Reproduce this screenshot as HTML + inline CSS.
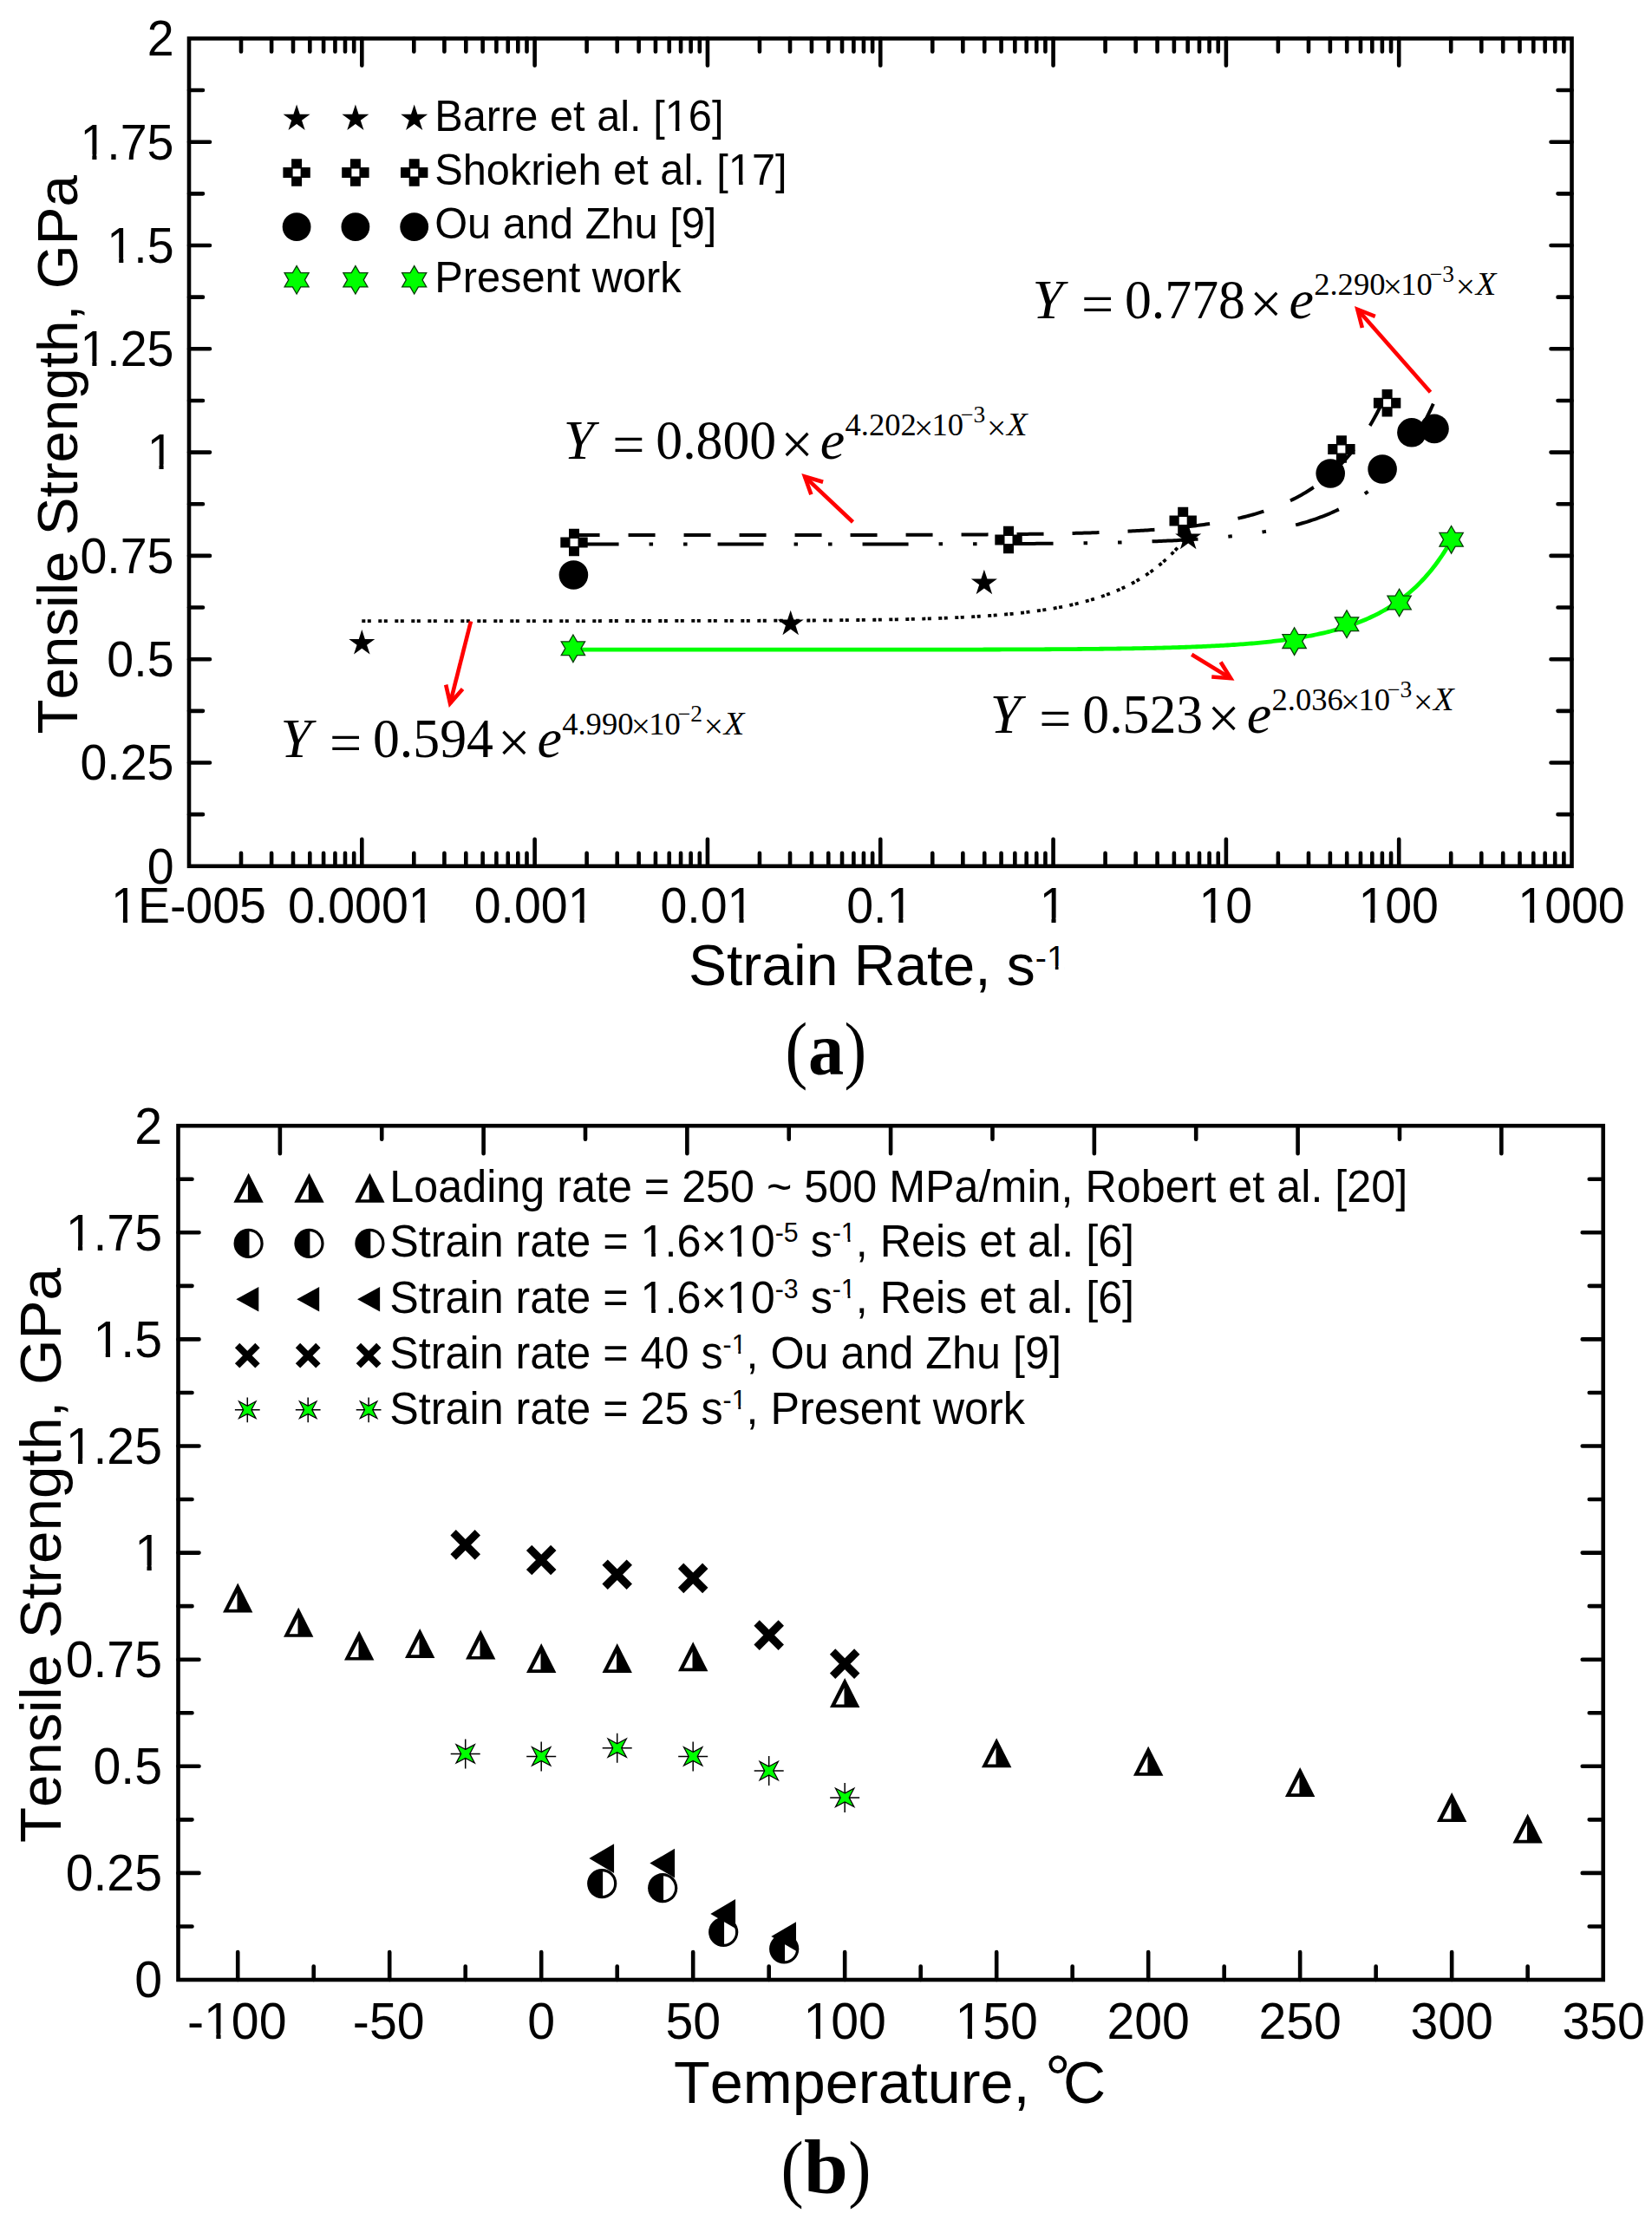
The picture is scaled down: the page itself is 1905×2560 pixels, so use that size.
<!DOCTYPE html>
<html lang="en">
<head>
<meta charset="utf-8">
<title>Tensile strength versus strain rate and temperature</title>
<style>
html,body{margin:0;padding:0;background:#fff;}
body{width:1905px;height:2560px;overflow:hidden;}
svg{display:block;}
text{fill:#000;font-kerning:none;}
</style>
</head>
<body>
<svg width="1905" height="2560" viewBox="0 0 1905 2560">
<rect width="1905" height="2560" fill="#fff"/>
<g id="panel-a">
<path d="M417.31 716.06 L419.69 716.06 L422.07 716.06 L424.46 716.06 L426.84 716.06 L429.22 716.06 L431.6 716.06 L433.98 716.06 L436.36 716.06 L438.74 716.06 L441.12 716.06 L443.5 716.06 L445.88 716.06 L448.26 716.06 L450.64 716.06 L453.03 716.06 L455.41 716.06 L457.79 716.06 L460.17 716.06 L462.55 716.06 L464.93 716.06 L467.31 716.06 L469.69 716.06 L472.07 716.06 L474.45 716.06 L476.83 716.06 L479.21 716.06 L481.6 716.06 L483.98 716.06 L486.36 716.06 L488.74 716.06 L491.12 716.06 L493.5 716.06 L495.88 716.06 L498.26 716.06 L500.64 716.06 L503.02 716.06 L505.4 716.06 L507.79 716.05 L510.17 716.05 L512.55 716.05 L514.93 716.05 L517.31 716.05 L519.69 716.05 L522.07 716.05 L524.45 716.05 L526.83 716.05 L529.21 716.05 L531.59 716.05 L533.97 716.05 L536.36 716.05 L538.74 716.05 L541.12 716.05 L543.5 716.05 L545.88 716.05 L548.26 716.05 L550.64 716.05 L553.02 716.05 L555.4 716.05 L557.78 716.05 L560.16 716.05 L562.55 716.05 L564.93 716.05 L567.31 716.05 L569.69 716.05 L572.07 716.05 L574.45 716.05 L576.83 716.05 L579.21 716.05 L581.59 716.05 L583.97 716.05 L586.35 716.05 L588.73 716.05 L591.12 716.05 L593.5 716.05 L595.88 716.05 L598.26 716.05 L600.64 716.05 L603.02 716.05 L605.4 716.05 L607.78 716.05 L610.16 716.05 L612.54 716.05 L614.92 716.05 L617.31 716.04 L619.69 716.04 L622.07 716.04 L624.45 716.04 L626.83 716.04 L629.21 716.04 L631.59 716.04 L633.97 716.04 L636.35 716.04 L638.73 716.04 L641.11 716.04 L643.49 716.04 L645.88 716.04 L648.26 716.04 L650.64 716.04 L653.02 716.04 L655.4 716.04 L657.78 716.04 L660.16 716.04 L662.54 716.04 L664.92 716.03 L667.3 716.03 L669.68 716.03 L672.06 716.03 L674.45 716.03 L676.83 716.03 L679.21 716.03 L681.59 716.03 L683.97 716.03 L686.35 716.03 L688.73 716.03 L691.11 716.03 L693.49 716.02 L695.87 716.02 L698.25 716.02 L700.64 716.02 L703.02 716.02 L705.4 716.02 L707.78 716.02 L710.16 716.02 L712.54 716.02 L714.92 716.02 L717.3 716.01 L719.68 716.01 L722.06 716.01 L724.44 716.01 L726.82 716.01 L729.21 716.01 L731.59 716.01 L733.97 716 L736.35 716 L738.73 716 L741.11 716 L743.49 716 L745.87 716 L748.25 715.99 L750.63 715.99 L753.01 715.99 L755.4 715.99 L757.78 715.99 L760.16 715.98 L762.54 715.98 L764.92 715.98 L767.3 715.98 L769.68 715.98 L772.06 715.97 L774.44 715.97 L776.82 715.97 L779.2 715.97 L781.58 715.96 L783.97 715.96 L786.35 715.96 L788.73 715.96 L791.11 715.95 L793.49 715.95 L795.87 715.95 L798.25 715.94 L800.63 715.94 L803.01 715.94 L805.39 715.93 L807.77 715.93 L810.15 715.93 L812.54 715.92 L814.92 715.92 L817.3 715.92 L819.68 715.91 L822.06 715.91 L824.44 715.9 L826.82 715.9 L829.2 715.89 L831.58 715.89 L833.96 715.89 L836.34 715.88 L838.73 715.88 L841.11 715.87 L843.49 715.86 L845.87 715.86 L848.25 715.85 L850.63 715.85 L853.01 715.84 L855.39 715.84 L857.77 715.83 L860.15 715.82 L862.53 715.82 L864.91 715.81 L867.3 715.8 L869.68 715.8 L872.06 715.79 L874.44 715.78 L876.82 715.77 L879.2 715.77 L881.58 715.76 L883.96 715.75 L886.34 715.74 L888.72 715.73 L891.1 715.72 L893.49 715.71 L895.87 715.7 L898.25 715.69 L900.63 715.68 L903.01 715.67 L905.39 715.66 L907.77 715.65 L910.15 715.64 L912.53 715.63 L914.91 715.62 L917.29 715.6 L919.67 715.59 L922.06 715.58 L924.44 715.56 L926.82 715.55 L929.2 715.54 L931.58 715.52 L933.96 715.51 L936.34 715.49 L938.72 715.48 L941.1 715.46 L943.48 715.44 L945.86 715.43 L948.24 715.41 L950.63 715.39 L953.01 715.37 L955.39 715.35 L957.77 715.33 L960.15 715.31 L962.53 715.29 L964.91 715.27 L967.29 715.25 L969.67 715.22 L972.05 715.2 L974.43 715.18 L976.82 715.15 L979.2 715.13 L981.58 715.1 L983.96 715.07 L986.34 715.05 L988.72 715.02 L991.1 714.99 L993.48 714.96 L995.86 714.93 L998.24 714.9 L1000.62 714.86 L1003 714.83 L1005.39 714.8 L1007.77 714.76 L1010.15 714.73 L1012.53 714.69 L1014.91 714.65 L1017.29 714.61 L1019.67 714.57 L1022.05 714.53 L1024.43 714.49 L1026.81 714.44 L1029.19 714.4 L1031.58 714.35 L1033.96 714.3 L1036.34 714.25 L1038.72 714.2 L1041.1 714.15 L1043.48 714.1 L1045.86 714.04 L1048.24 713.99 L1050.62 713.93 L1053 713.87 L1055.38 713.81 L1057.76 713.74 L1060.15 713.68 L1062.53 713.61 L1064.91 713.54 L1067.29 713.47 L1069.67 713.4 L1072.05 713.33 L1074.43 713.25 L1076.81 713.17 L1079.19 713.09 L1081.57 713.01 L1083.95 712.92 L1086.34 712.83 L1088.72 712.74 L1091.1 712.65 L1093.48 712.55 L1095.86 712.46 L1098.24 712.35 L1100.62 712.25 L1103 712.14 L1105.38 712.03 L1107.76 711.92 L1110.14 711.8 L1112.52 711.69 L1114.91 711.56 L1117.29 711.44 L1119.67 711.31 L1122.05 711.17 L1124.43 711.03 L1126.81 710.89 L1129.19 710.75 L1131.57 710.6 L1133.95 710.44 L1136.33 710.29 L1138.71 710.12 L1141.09 709.96 L1143.48 709.78 L1145.86 709.61 L1148.24 709.43 L1150.62 709.24 L1153 709.05 L1155.38 708.85 L1157.76 708.64 L1160.14 708.43 L1162.52 708.22 L1164.9 708 L1167.28 707.77 L1169.67 707.53 L1172.05 707.29 L1174.43 707.04 L1176.81 706.79 L1179.19 706.53 L1181.57 706.26 L1183.95 705.98 L1186.33 705.69 L1188.71 705.4 L1191.09 705.09 L1193.47 704.78 L1195.85 704.46 L1198.24 704.13 L1200.62 703.79 L1203 703.44 L1205.38 703.08 L1207.76 702.71 L1210.14 702.33 L1212.52 701.94 L1214.9 701.53 L1217.28 701.12 L1219.66 700.69 L1222.04 700.25 L1224.43 699.8 L1226.81 699.33 L1229.19 698.85 L1231.57 698.36 L1233.95 697.85 L1236.33 697.32 L1238.71 696.78 L1241.09 696.23 L1243.47 695.65 L1245.85 695.06 L1248.23 694.46 L1250.61 693.83 L1253 693.19 L1255.38 692.52 L1257.76 691.84 L1260.14 691.13 L1262.52 690.41 L1264.9 689.66 L1267.28 688.89 L1269.66 688.1 L1272.04 687.28 L1274.42 686.44 L1276.8 685.57 L1279.18 684.67 L1281.57 683.75 L1283.95 682.79 L1286.33 681.81 L1288.71 680.8 L1291.09 679.76 L1293.47 678.68 L1295.85 677.57 L1298.23 676.42 L1300.61 675.24 L1302.99 674.02 L1305.37 672.77 L1307.76 671.47 L1310.14 670.13 L1312.52 668.75 L1314.9 667.32 L1317.28 665.85 L1319.66 664.32 L1322.04 662.75 L1324.42 661.13 L1326.8 659.45 L1329.18 657.72 L1331.56 655.93 L1333.94 654.09 L1336.33 652.18 L1338.71 650.2 L1341.09 648.16 L1343.47 646.05 L1345.85 643.86 L1348.23 641.61 L1350.61 639.27 L1352.99 636.85 L1355.37 634.35 L1357.75 631.76 L1360.13 629.08 L1362.52 626.31 L1364.9 623.43 L1367.28 620.45 L1369.66 617.37" fill="none" stroke="#000" stroke-width="3.8" stroke-dasharray="4 2.5 4 8.5"/>
<path d="M662.56 617.04 L664.9 617.04 L667.24 617.04 L669.58 617.04 L671.92 617.04 L674.26 617.04 L676.6 617.04 L678.95 617.04 L681.29 617.04 L683.63 617.04 L685.97 617.04 L688.31 617.04 L690.65 617.04 L692.99 617.04 L695.34 617.04 L697.68 617.04 L700.02 617.04 L702.36 617.04 L704.7 617.04 L707.04 617.04 L709.38 617.04 L711.73 617.04 L714.07 617.04 L716.41 617.03 L718.75 617.03 L721.09 617.03 L723.43 617.03 L725.77 617.03 L728.12 617.03 L730.46 617.03 L732.8 617.03 L735.14 617.03 L737.48 617.03 L739.82 617.03 L742.16 617.03 L744.51 617.03 L746.85 617.03 L749.19 617.03 L751.53 617.03 L753.87 617.03 L756.21 617.03 L758.55 617.03 L760.9 617.03 L763.24 617.03 L765.58 617.03 L767.92 617.03 L770.26 617.03 L772.6 617.03 L774.94 617.03 L777.29 617.03 L779.63 617.03 L781.97 617.03 L784.31 617.03 L786.65 617.03 L788.99 617.03 L791.33 617.03 L793.68 617.03 L796.02 617.03 L798.36 617.03 L800.7 617.03 L803.04 617.03 L805.38 617.03 L807.72 617.03 L810.07 617.03 L812.41 617.02 L814.75 617.02 L817.09 617.02 L819.43 617.02 L821.77 617.02 L824.11 617.02 L826.45 617.02 L828.8 617.02 L831.14 617.02 L833.48 617.02 L835.82 617.02 L838.16 617.02 L840.5 617.02 L842.84 617.02 L845.19 617.02 L847.53 617.02 L849.87 617.02 L852.21 617.02 L854.55 617.01 L856.89 617.01 L859.23 617.01 L861.58 617.01 L863.92 617.01 L866.26 617.01 L868.6 617.01 L870.94 617.01 L873.28 617.01 L875.62 617.01 L877.97 617.01 L880.31 617.01 L882.65 617.01 L884.99 617 L887.33 617 L889.67 617 L892.01 617 L894.36 617 L896.7 617 L899.04 617 L901.38 617 L903.72 617 L906.06 616.99 L908.4 616.99 L910.75 616.99 L913.09 616.99 L915.43 616.99 L917.77 616.99 L920.11 616.99 L922.45 616.99 L924.79 616.98 L927.14 616.98 L929.48 616.98 L931.82 616.98 L934.16 616.98 L936.5 616.98 L938.84 616.97 L941.18 616.97 L943.53 616.97 L945.87 616.97 L948.21 616.97 L950.55 616.96 L952.89 616.96 L955.23 616.96 L957.57 616.96 L959.92 616.96 L962.26 616.95 L964.6 616.95 L966.94 616.95 L969.28 616.95 L971.62 616.94 L973.96 616.94 L976.31 616.94 L978.65 616.93 L980.99 616.93 L983.33 616.93 L985.67 616.93 L988.01 616.92 L990.35 616.92 L992.69 616.92 L995.04 616.91 L997.38 616.91 L999.72 616.91 L1002.06 616.9 L1004.4 616.9 L1006.74 616.89 L1009.08 616.89 L1011.43 616.89 L1013.77 616.88 L1016.11 616.88 L1018.45 616.87 L1020.79 616.87 L1023.13 616.86 L1025.47 616.86 L1027.82 616.85 L1030.16 616.85 L1032.5 616.84 L1034.84 616.84 L1037.18 616.83 L1039.52 616.83 L1041.86 616.82 L1044.21 616.82 L1046.55 616.81 L1048.89 616.8 L1051.23 616.8 L1053.57 616.79 L1055.91 616.78 L1058.25 616.78 L1060.6 616.77 L1062.94 616.76 L1065.28 616.75 L1067.62 616.75 L1069.96 616.74 L1072.3 616.73 L1074.64 616.72 L1076.99 616.71 L1079.33 616.7 L1081.67 616.69 L1084.01 616.68 L1086.35 616.68 L1088.69 616.67 L1091.03 616.65 L1093.38 616.64 L1095.72 616.63 L1098.06 616.62 L1100.4 616.61 L1102.74 616.6 L1105.08 616.59 L1107.42 616.57 L1109.77 616.56 L1112.11 616.55 L1114.45 616.54 L1116.79 616.52 L1119.13 616.51 L1121.47 616.49 L1123.81 616.48 L1126.16 616.46 L1128.5 616.45 L1130.84 616.43 L1133.18 616.41 L1135.52 616.4 L1137.86 616.38 L1140.2 616.36 L1142.55 616.34 L1144.89 616.32 L1147.23 616.3 L1149.57 616.28 L1151.91 616.26 L1154.25 616.24 L1156.59 616.22 L1158.93 616.2 L1161.28 616.17 L1163.62 616.15 L1165.96 616.12 L1168.3 616.1 L1170.64 616.07 L1172.98 616.05 L1175.32 616.02 L1177.67 615.99 L1180.01 615.96 L1182.35 615.93 L1184.69 615.9 L1187.03 615.87 L1189.37 615.84 L1191.71 615.81 L1194.06 615.77 L1196.4 615.74 L1198.74 615.7 L1201.08 615.66 L1203.42 615.63 L1205.76 615.59 L1208.1 615.55 L1210.45 615.51 L1212.79 615.47 L1215.13 615.42 L1217.47 615.38 L1219.81 615.33 L1222.15 615.28 L1224.49 615.24 L1226.84 615.19 L1229.18 615.14 L1231.52 615.08 L1233.86 615.03 L1236.2 614.97 L1238.54 614.92 L1240.88 614.86 L1243.23 614.8 L1245.57 614.74 L1247.91 614.67 L1250.25 614.61 L1252.59 614.54 L1254.93 614.47 L1257.27 614.4 L1259.62 614.33 L1261.96 614.26 L1264.3 614.18 L1266.64 614.1 L1268.98 614.02 L1271.32 613.94 L1273.66 613.85 L1276.01 613.76 L1278.35 613.67 L1280.69 613.58 L1283.03 613.49 L1285.37 613.39 L1287.71 613.29 L1290.05 613.18 L1292.4 613.08 L1294.74 612.97 L1297.08 612.86 L1299.42 612.74 L1301.76 612.62 L1304.1 612.5 L1306.44 612.37 L1308.79 612.25 L1311.13 612.11 L1313.47 611.98 L1315.81 611.84 L1318.15 611.69 L1320.49 611.55 L1322.83 611.4 L1325.17 611.24 L1327.52 611.08 L1329.86 610.91 L1332.2 610.74 L1334.54 610.57 L1336.88 610.39 L1339.22 610.21 L1341.56 610.02 L1343.91 609.82 L1346.25 609.62 L1348.59 609.42 L1350.93 609.21 L1353.27 608.99 L1355.61 608.77 L1357.95 608.54 L1360.3 608.3 L1362.64 608.06 L1364.98 607.81 L1367.32 607.56 L1369.66 607.29 L1372 607.02 L1374.34 606.74 L1376.69 606.46 L1379.03 606.16 L1381.37 605.86 L1383.71 605.55 L1386.05 605.23 L1388.39 604.9 L1390.73 604.56 L1393.08 604.21 L1395.42 603.86 L1397.76 603.49 L1400.1 603.11 L1402.44 602.72 L1404.78 602.32 L1407.12 601.91 L1409.47 601.49 L1411.81 601.05 L1414.15 600.6 L1416.49 600.14 L1418.83 599.67 L1421.17 599.18 L1423.51 598.68 L1425.86 598.17 L1428.2 597.63 L1430.54 597.09 L1432.88 596.53 L1435.22 595.95 L1437.56 595.36 L1439.9 594.74 L1442.25 594.11 L1444.59 593.47 L1446.93 592.8 L1449.27 592.11 L1451.61 591.41 L1453.95 590.68 L1456.29 589.93 L1458.64 589.17 L1460.98 588.37 L1463.32 587.56 L1465.66 586.72 L1468 585.85 L1470.34 584.96 L1472.68 584.05 L1475.03 583.1 L1477.37 582.13 L1479.71 581.13 L1482.05 580.1 L1484.39 579.04 L1486.73 577.94 L1489.07 576.82 L1491.42 575.66 L1493.76 574.46 L1496.1 573.23 L1498.44 571.96 L1500.78 570.65 L1503.12 569.3 L1505.46 567.91 L1507.8 566.48 L1510.15 565 L1512.49 563.48 L1514.83 561.91 L1517.17 560.29 L1519.51 558.62 L1521.85 556.9 L1524.19 555.13 L1526.54 553.29 L1528.88 551.4 L1531.22 549.45 L1533.56 547.44 L1535.9 545.36 L1538.24 543.22 L1540.58 541 L1542.93 538.72 L1545.27 536.36 L1547.61 533.92 L1549.95 531.4 L1552.29 528.8 L1554.63 526.12 L1556.97 523.34 L1559.32 520.47 L1561.66 517.5 L1564 514.43 L1566.34 511.26 L1568.68 507.98 L1571.02 504.59 L1573.36 501.08 L1575.71 497.45 L1578.05 493.69 L1580.39 489.79 L1582.73 485.76 L1585.07 481.59 L1587.41 477.26 L1589.75 472.78 L1592.1 468.14 L1594.44 463.33 L1596.78 458.33 L1599.12 453.16" fill="none" stroke="#000" stroke-width="4" stroke-dasharray="31 33" stroke-dashoffset="2"/>
<path d="M662.56 627.54 L665.03 627.54 L667.51 627.54 L669.99 627.54 L672.47 627.54 L674.95 627.54 L677.43 627.54 L679.9 627.54 L682.38 627.54 L684.86 627.54 L687.34 627.54 L689.82 627.54 L692.3 627.54 L694.77 627.54 L697.25 627.54 L699.73 627.54 L702.21 627.54 L704.69 627.54 L707.17 627.54 L709.64 627.54 L712.12 627.54 L714.6 627.54 L717.08 627.54 L719.56 627.54 L722.04 627.54 L724.51 627.54 L726.99 627.54 L729.47 627.54 L731.95 627.54 L734.43 627.54 L736.9 627.53 L739.38 627.53 L741.86 627.53 L744.34 627.53 L746.82 627.53 L749.3 627.53 L751.77 627.53 L754.25 627.53 L756.73 627.53 L759.21 627.53 L761.69 627.53 L764.17 627.53 L766.64 627.53 L769.12 627.53 L771.6 627.53 L774.08 627.53 L776.56 627.53 L779.04 627.53 L781.51 627.53 L783.99 627.53 L786.47 627.53 L788.95 627.53 L791.43 627.53 L793.91 627.53 L796.38 627.53 L798.86 627.53 L801.34 627.53 L803.82 627.53 L806.3 627.53 L808.78 627.53 L811.25 627.53 L813.73 627.53 L816.21 627.53 L818.69 627.53 L821.17 627.53 L823.65 627.53 L826.12 627.53 L828.6 627.53 L831.08 627.53 L833.56 627.53 L836.04 627.53 L838.51 627.53 L840.99 627.53 L843.47 627.53 L845.95 627.53 L848.43 627.53 L850.91 627.53 L853.38 627.53 L855.86 627.52 L858.34 627.52 L860.82 627.52 L863.3 627.52 L865.78 627.52 L868.25 627.52 L870.73 627.52 L873.21 627.52 L875.69 627.52 L878.17 627.52 L880.65 627.52 L883.12 627.52 L885.6 627.52 L888.08 627.52 L890.56 627.52 L893.04 627.52 L895.52 627.52 L897.99 627.52 L900.47 627.52 L902.95 627.52 L905.43 627.51 L907.91 627.51 L910.39 627.51 L912.86 627.51 L915.34 627.51 L917.82 627.51 L920.3 627.51 L922.78 627.51 L925.25 627.51 L927.73 627.51 L930.21 627.51 L932.69 627.51 L935.17 627.5 L937.65 627.5 L940.12 627.5 L942.6 627.5 L945.08 627.5 L947.56 627.5 L950.04 627.5 L952.52 627.5 L954.99 627.5 L957.47 627.49 L959.95 627.49 L962.43 627.49 L964.91 627.49 L967.39 627.49 L969.86 627.49 L972.34 627.49 L974.82 627.49 L977.3 627.48 L979.78 627.48 L982.26 627.48 L984.73 627.48 L987.21 627.48 L989.69 627.48 L992.17 627.47 L994.65 627.47 L997.13 627.47 L999.6 627.47 L1002.08 627.47 L1004.56 627.46 L1007.04 627.46 L1009.52 627.46 L1011.99 627.46 L1014.47 627.45 L1016.95 627.45 L1019.43 627.45 L1021.91 627.45 L1024.39 627.44 L1026.86 627.44 L1029.34 627.44 L1031.82 627.44 L1034.3 627.43 L1036.78 627.43 L1039.26 627.43 L1041.73 627.42 L1044.21 627.42 L1046.69 627.42 L1049.17 627.41 L1051.65 627.41 L1054.13 627.41 L1056.6 627.4 L1059.08 627.4 L1061.56 627.39 L1064.04 627.39 L1066.52 627.38 L1069 627.38 L1071.47 627.38 L1073.95 627.37 L1076.43 627.37 L1078.91 627.36 L1081.39 627.36 L1083.87 627.35 L1086.34 627.35 L1088.82 627.34 L1091.3 627.33 L1093.78 627.33 L1096.26 627.32 L1098.73 627.32 L1101.21 627.31 L1103.69 627.3 L1106.17 627.3 L1108.65 627.29 L1111.13 627.28 L1113.6 627.27 L1116.08 627.27 L1118.56 627.26 L1121.04 627.25 L1123.52 627.24 L1126 627.23 L1128.47 627.22 L1130.95 627.21 L1133.43 627.21 L1135.91 627.2 L1138.39 627.19 L1140.87 627.18 L1143.34 627.16 L1145.82 627.15 L1148.3 627.14 L1150.78 627.13 L1153.26 627.12 L1155.74 627.11 L1158.21 627.09 L1160.69 627.08 L1163.17 627.07 L1165.65 627.05 L1168.13 627.04 L1170.61 627.03 L1173.08 627.01 L1175.56 627 L1178.04 626.98 L1180.52 626.96 L1183 626.95 L1185.47 626.93 L1187.95 626.91 L1190.43 626.89 L1192.91 626.88 L1195.39 626.86 L1197.87 626.84 L1200.34 626.82 L1202.82 626.8 L1205.3 626.77 L1207.78 626.75 L1210.26 626.73 L1212.74 626.71 L1215.21 626.68 L1217.69 626.66 L1220.17 626.63 L1222.65 626.6 L1225.13 626.58 L1227.61 626.55 L1230.08 626.52 L1232.56 626.49 L1235.04 626.46 L1237.52 626.43 L1240 626.4 L1242.48 626.36 L1244.95 626.33 L1247.43 626.29 L1249.91 626.26 L1252.39 626.22 L1254.87 626.18 L1257.35 626.14 L1259.82 626.1 L1262.3 626.06 L1264.78 626.02 L1267.26 625.97 L1269.74 625.93 L1272.21 625.88 L1274.69 625.83 L1277.17 625.78 L1279.65 625.73 L1282.13 625.68 L1284.61 625.62 L1287.08 625.57 L1289.56 625.51 L1292.04 625.45 L1294.52 625.39 L1297 625.33 L1299.48 625.26 L1301.95 625.2 L1304.43 625.13 L1306.91 625.06 L1309.39 624.99 L1311.87 624.91 L1314.35 624.84 L1316.82 624.76 L1319.3 624.68 L1321.78 624.59 L1324.26 624.51 L1326.74 624.42 L1329.22 624.33 L1331.69 624.23 L1334.17 624.14 L1336.65 624.04 L1339.13 623.94 L1341.61 623.83 L1344.09 623.72 L1346.56 623.61 L1349.04 623.5 L1351.52 623.38 L1354 623.26 L1356.48 623.13 L1358.96 623 L1361.43 622.87 L1363.91 622.73 L1366.39 622.59 L1368.87 622.45 L1371.35 622.3 L1373.82 622.15 L1376.3 621.99 L1378.78 621.83 L1381.26 621.66 L1383.74 621.49 L1386.22 621.31 L1388.69 621.13 L1391.17 620.94 L1393.65 620.75 L1396.13 620.55 L1398.61 620.34 L1401.09 620.13 L1403.56 619.91 L1406.04 619.69 L1408.52 619.46 L1411 619.22 L1413.48 618.98 L1415.96 618.73 L1418.43 618.47 L1420.91 618.2 L1423.39 617.93 L1425.87 617.64 L1428.35 617.35 L1430.83 617.05 L1433.3 616.74 L1435.78 616.42 L1438.26 616.1 L1440.74 615.76 L1443.22 615.41 L1445.7 615.05 L1448.17 614.69 L1450.65 614.31 L1453.13 613.91 L1455.61 613.51 L1458.09 613.1 L1460.56 612.67 L1463.04 612.23 L1465.52 611.77 L1468 611.31 L1470.48 610.82 L1472.96 610.33 L1475.43 609.82 L1477.91 609.29 L1480.39 608.74 L1482.87 608.18 L1485.35 607.61 L1487.83 607.01 L1490.3 606.4 L1492.78 605.77 L1495.26 605.12 L1497.74 604.45 L1500.22 603.76 L1502.7 603.04 L1505.17 602.31 L1507.65 601.55 L1510.13 600.77 L1512.61 599.96 L1515.09 599.13 L1517.57 598.27 L1520.04 597.39 L1522.52 596.48 L1525 595.54 L1527.48 594.57 L1529.96 593.57 L1532.44 592.54 L1534.91 591.47 L1537.39 590.38 L1539.87 589.24 L1542.35 588.07 L1544.83 586.87 L1547.3 585.62 L1549.78 584.33 L1552.26 583.01 L1554.74 581.64 L1557.22 580.22 L1559.7 578.76 L1562.17 577.25 L1564.65 575.69 L1567.13 574.08 L1569.61 572.42 L1572.09 570.7 L1574.57 568.93 L1577.04 567.1 L1579.52 565.2 L1582 563.24 L1584.48 561.22 L1586.96 559.12 L1589.44 556.96 L1591.91 554.72 L1594.39 552.4 L1596.87 550.01 L1599.35 547.53 L1601.83 544.96 L1604.31 542.31 L1606.78 539.56 L1609.26 536.71 L1611.74 533.77 L1614.22 530.71 L1616.7 527.55 L1619.18 524.28 L1621.65 520.88 L1624.13 517.37 L1626.61 513.72 L1629.09 509.94 L1631.57 506.01 L1634.04 501.94 L1636.52 497.72 L1639 493.34 L1641.48 488.79 L1643.96 484.06 L1646.44 479.15 L1648.91 474.05 L1651.39 468.75 L1653.87 463.24" fill="none" stroke="#000" stroke-width="4" stroke-dasharray="53 35 4.5 35 4.5 35" stroke-dashoffset="2"/>
<path d="M662.56 749.22 L665.08 749.22 L667.61 749.22 L670.14 749.22 L672.66 749.22 L675.19 749.22 L677.72 749.22 L680.24 749.22 L682.77 749.22 L685.3 749.22 L687.82 749.22 L690.35 749.22 L692.88 749.22 L695.4 749.22 L697.93 749.22 L700.45 749.22 L702.98 749.22 L705.51 749.22 L708.03 749.22 L710.56 749.22 L713.09 749.22 L715.61 749.22 L718.14 749.22 L720.67 749.22 L723.19 749.22 L725.72 749.22 L728.25 749.22 L730.77 749.22 L733.3 749.22 L735.83 749.22 L738.35 749.22 L740.88 749.22 L743.41 749.22 L745.93 749.22 L748.46 749.22 L750.99 749.22 L753.51 749.22 L756.04 749.22 L758.57 749.22 L761.09 749.22 L763.62 749.22 L766.15 749.22 L768.67 749.22 L771.2 749.22 L773.73 749.22 L776.25 749.22 L778.78 749.22 L781.31 749.22 L783.83 749.22 L786.36 749.22 L788.89 749.22 L791.41 749.22 L793.94 749.22 L796.46 749.22 L798.99 749.22 L801.52 749.22 L804.04 749.22 L806.57 749.22 L809.1 749.22 L811.62 749.22 L814.15 749.22 L816.68 749.22 L819.2 749.22 L821.73 749.22 L824.26 749.22 L826.78 749.22 L829.31 749.22 L831.84 749.22 L834.36 749.22 L836.89 749.22 L839.42 749.22 L841.94 749.22 L844.47 749.22 L847 749.22 L849.52 749.22 L852.05 749.22 L854.58 749.22 L857.1 749.22 L859.63 749.22 L862.16 749.22 L864.68 749.22 L867.21 749.22 L869.74 749.21 L872.26 749.21 L874.79 749.21 L877.32 749.21 L879.84 749.21 L882.37 749.21 L884.89 749.21 L887.42 749.21 L889.95 749.21 L892.47 749.21 L895 749.21 L897.53 749.21 L900.05 749.21 L902.58 749.21 L905.11 749.21 L907.63 749.21 L910.16 749.21 L912.69 749.21 L915.21 749.21 L917.74 749.21 L920.27 749.21 L922.79 749.21 L925.32 749.21 L927.85 749.21 L930.37 749.21 L932.9 749.2 L935.43 749.2 L937.95 749.2 L940.48 749.2 L943.01 749.2 L945.53 749.2 L948.06 749.2 L950.59 749.2 L953.11 749.2 L955.64 749.2 L958.17 749.2 L960.69 749.2 L963.22 749.2 L965.75 749.2 L968.27 749.19 L970.8 749.19 L973.33 749.19 L975.85 749.19 L978.38 749.19 L980.9 749.19 L983.43 749.19 L985.96 749.19 L988.48 749.19 L991.01 749.19 L993.54 749.18 L996.06 749.18 L998.59 749.18 L1001.12 749.18 L1003.64 749.18 L1006.17 749.18 L1008.7 749.18 L1011.22 749.18 L1013.75 749.17 L1016.28 749.17 L1018.8 749.17 L1021.33 749.17 L1023.86 749.17 L1026.38 749.17 L1028.91 749.16 L1031.44 749.16 L1033.96 749.16 L1036.49 749.16 L1039.02 749.16 L1041.54 749.16 L1044.07 749.15 L1046.6 749.15 L1049.12 749.15 L1051.65 749.15 L1054.18 749.14 L1056.7 749.14 L1059.23 749.14 L1061.76 749.14 L1064.28 749.13 L1066.81 749.13 L1069.34 749.13 L1071.86 749.13 L1074.39 749.12 L1076.91 749.12 L1079.44 749.12 L1081.97 749.11 L1084.49 749.11 L1087.02 749.11 L1089.55 749.1 L1092.07 749.1 L1094.6 749.1 L1097.13 749.09 L1099.65 749.09 L1102.18 749.09 L1104.71 749.08 L1107.23 749.08 L1109.76 749.07 L1112.29 749.07 L1114.81 749.06 L1117.34 749.06 L1119.87 749.05 L1122.39 749.05 L1124.92 749.04 L1127.45 749.04 L1129.97 749.03 L1132.5 749.03 L1135.03 749.02 L1137.55 749.02 L1140.08 749.01 L1142.61 749 L1145.13 749 L1147.66 748.99 L1150.19 748.98 L1152.71 748.98 L1155.24 748.97 L1157.77 748.96 L1160.29 748.95 L1162.82 748.94 L1165.34 748.94 L1167.87 748.93 L1170.4 748.92 L1172.92 748.91 L1175.45 748.9 L1177.98 748.89 L1180.5 748.88 L1183.03 748.87 L1185.56 748.86 L1188.08 748.85 L1190.61 748.84 L1193.14 748.83 L1195.66 748.82 L1198.19 748.8 L1200.72 748.79 L1203.24 748.78 L1205.77 748.76 L1208.3 748.75 L1210.82 748.74 L1213.35 748.72 L1215.88 748.71 L1218.4 748.69 L1220.93 748.68 L1223.46 748.66 L1225.98 748.64 L1228.51 748.63 L1231.04 748.61 L1233.56 748.59 L1236.09 748.57 L1238.62 748.55 L1241.14 748.53 L1243.67 748.51 L1246.2 748.49 L1248.72 748.47 L1251.25 748.45 L1253.78 748.42 L1256.3 748.4 L1258.83 748.38 L1261.35 748.35 L1263.88 748.32 L1266.41 748.3 L1268.93 748.27 L1271.46 748.24 L1273.99 748.21 L1276.51 748.18 L1279.04 748.15 L1281.57 748.12 L1284.09 748.09 L1286.62 748.05 L1289.15 748.02 L1291.67 747.98 L1294.2 747.95 L1296.73 747.91 L1299.25 747.87 L1301.78 747.83 L1304.31 747.79 L1306.83 747.74 L1309.36 747.7 L1311.89 747.66 L1314.41 747.61 L1316.94 747.56 L1319.47 747.51 L1321.99 747.46 L1324.52 747.41 L1327.05 747.35 L1329.57 747.3 L1332.1 747.24 L1334.63 747.18 L1337.15 747.12 L1339.68 747.06 L1342.21 746.99 L1344.73 746.93 L1347.26 746.86 L1349.78 746.79 L1352.31 746.72 L1354.84 746.64 L1357.36 746.57 L1359.89 746.49 L1362.42 746.4 L1364.94 746.32 L1367.47 746.23 L1370 746.14 L1372.52 746.05 L1375.05 745.96 L1377.58 745.86 L1380.1 745.76 L1382.63 745.66 L1385.16 745.55 L1387.68 745.44 L1390.21 745.33 L1392.74 745.21 L1395.26 745.09 L1397.79 744.97 L1400.32 744.84 L1402.84 744.71 L1405.37 744.58 L1407.9 744.44 L1410.42 744.29 L1412.95 744.15 L1415.48 743.99 L1418 743.84 L1420.53 743.68 L1423.06 743.51 L1425.58 743.34 L1428.11 743.16 L1430.64 742.98 L1433.16 742.79 L1435.69 742.6 L1438.22 742.4 L1440.74 742.2 L1443.27 741.99 L1445.79 741.77 L1448.32 741.54 L1450.85 741.31 L1453.37 741.07 L1455.9 740.83 L1458.43 740.58 L1460.95 740.32 L1463.48 740.05 L1466.01 739.77 L1468.53 739.48 L1471.06 739.19 L1473.59 738.89 L1476.11 738.57 L1478.64 738.25 L1481.17 737.92 L1483.69 737.58 L1486.22 737.22 L1488.75 736.86 L1491.27 736.48 L1493.8 736.1 L1496.33 735.7 L1498.85 735.29 L1501.38 734.86 L1503.91 734.42 L1506.43 733.97 L1508.96 733.51 L1511.49 733.03 L1514.01 732.53 L1516.54 732.02 L1519.07 731.49 L1521.59 730.95 L1524.12 730.39 L1526.65 729.81 L1529.17 729.21 L1531.7 728.59 L1534.22 727.96 L1536.75 727.3 L1539.28 726.62 L1541.8 725.92 L1544.33 725.2 L1546.86 724.46 L1549.38 723.69 L1551.91 722.89 L1554.44 722.07 L1556.96 721.22 L1559.49 720.35 L1562.02 719.44 L1564.54 718.51 L1567.07 717.54 L1569.6 716.55 L1572.12 715.51 L1574.65 714.45 L1577.18 713.35 L1579.7 712.21 L1582.23 711.04 L1584.76 709.82 L1587.28 708.56 L1589.81 707.26 L1592.34 705.92 L1594.86 704.52 L1597.39 703.08 L1599.92 701.6 L1602.44 700.05 L1604.97 698.46 L1607.5 696.81 L1610.02 695.1 L1612.55 693.33 L1615.08 691.49 L1617.6 689.59 L1620.13 687.62 L1622.66 685.58 L1625.18 683.47 L1627.71 681.28 L1630.23 679.01 L1632.76 676.65 L1635.29 674.2 L1637.81 671.67 L1640.34 669.03 L1642.87 666.3 L1645.39 663.46 L1647.92 660.52 L1650.45 657.46 L1652.97 654.28 L1655.5 650.97 L1658.03 647.53 L1660.55 643.96 L1663.08 640.24 L1665.61 636.37 L1668.13 632.35 L1670.66 628.15 L1673.19 623.79" fill="none" stroke="#00ff00" stroke-width="4.8"/>
<g stroke="#000" stroke-width="4.6" fill="none" stroke-linecap="butt">
<rect x="218" y="44.4" width="1594.5" height="954.4"/>
<path d="M278 44.4 v15 M278 998.8 v-15 M313.1 44.4 v15 M313.1 998.8 v-15 M338 44.4 v15 M338 998.8 v-15 M357.31 44.4 v15 M357.31 998.8 v-15 M373.1 44.4 v15 M373.1 998.8 v-15 M386.44 44.4 v15 M386.44 998.8 v-15 M398 44.4 v15 M398 998.8 v-15 M408.19 44.4 v15 M408.19 998.8 v-15 M417.31 44.4 v31 M417.31 998.8 v-31 M477.31 44.4 v15 M477.31 998.8 v-15 M512.41 44.4 v15 M512.41 998.8 v-15 M537.31 44.4 v15 M537.31 998.8 v-15 M556.63 44.4 v15 M556.63 998.8 v-15 M572.41 44.4 v15 M572.41 998.8 v-15 M585.75 44.4 v15 M585.75 998.8 v-15 M597.31 44.4 v15 M597.31 998.8 v-15 M607.5 44.4 v15 M607.5 998.8 v-15 M616.62 44.4 v31 M616.62 998.8 v-31 M676.62 44.4 v15 M676.62 998.8 v-15 M711.72 44.4 v15 M711.72 998.8 v-15 M736.62 44.4 v15 M736.62 998.8 v-15 M755.94 44.4 v15 M755.94 998.8 v-15 M771.72 44.4 v15 M771.72 998.8 v-15 M785.06 44.4 v15 M785.06 998.8 v-15 M796.62 44.4 v15 M796.62 998.8 v-15 M806.82 44.4 v15 M806.82 998.8 v-15 M815.94 44.4 v31 M815.94 998.8 v-31 M875.94 44.4 v15 M875.94 998.8 v-15 M911.03 44.4 v15 M911.03 998.8 v-15 M935.94 44.4 v15 M935.94 998.8 v-15 M955.25 44.4 v15 M955.25 998.8 v-15 M971.03 44.4 v15 M971.03 998.8 v-15 M984.38 44.4 v15 M984.38 998.8 v-15 M995.93 44.4 v15 M995.93 998.8 v-15 M1006.13 44.4 v15 M1006.13 998.8 v-15 M1015.25 44.4 v31 M1015.25 998.8 v-31 M1075.25 44.4 v15 M1075.25 998.8 v-15 M1110.35 44.4 v15 M1110.35 998.8 v-15 M1135.25 44.4 v15 M1135.25 998.8 v-15 M1154.56 44.4 v15 M1154.56 998.8 v-15 M1170.35 44.4 v15 M1170.35 998.8 v-15 M1183.69 44.4 v15 M1183.69 998.8 v-15 M1195.25 44.4 v15 M1195.25 998.8 v-15 M1205.44 44.4 v15 M1205.44 998.8 v-15 M1214.56 44.4 v31 M1214.56 998.8 v-31 M1274.56 44.4 v15 M1274.56 998.8 v-15 M1309.66 44.4 v15 M1309.66 998.8 v-15 M1334.56 44.4 v15 M1334.56 998.8 v-15 M1353.88 44.4 v15 M1353.88 998.8 v-15 M1369.66 44.4 v15 M1369.66 998.8 v-15 M1383 44.4 v15 M1383 998.8 v-15 M1394.56 44.4 v15 M1394.56 998.8 v-15 M1404.75 44.4 v15 M1404.75 998.8 v-15 M1413.88 44.4 v31 M1413.88 998.8 v-31 M1473.87 44.4 v15 M1473.87 998.8 v-15 M1508.97 44.4 v15 M1508.97 998.8 v-15 M1533.87 44.4 v15 M1533.87 998.8 v-15 M1553.19 44.4 v15 M1553.19 998.8 v-15 M1568.97 44.4 v15 M1568.97 998.8 v-15 M1582.31 44.4 v15 M1582.31 998.8 v-15 M1593.87 44.4 v15 M1593.87 998.8 v-15 M1604.07 44.4 v15 M1604.07 998.8 v-15 M1613.19 44.4 v31 M1613.19 998.8 v-31 M1673.19 44.4 v15 M1673.19 998.8 v-15 M1708.28 44.4 v15 M1708.28 998.8 v-15 M1733.19 44.4 v15 M1733.19 998.8 v-15 M1752.5 44.4 v15 M1752.5 998.8 v-15 M1768.28 44.4 v15 M1768.28 998.8 v-15 M1781.63 44.4 v15 M1781.63 998.8 v-15 M1793.18 44.4 v15 M1793.18 998.8 v-15 M1803.38 44.4 v15 M1803.38 998.8 v-15 M218 939.15 h16 M1812.5 939.15 h-16 M218 879.5 h24 M1812.5 879.5 h-24 M218 819.85 h16 M1812.5 819.85 h-16 M218 760.2 h24 M1812.5 760.2 h-24 M218 700.55 h16 M1812.5 700.55 h-16 M218 640.9 h24 M1812.5 640.9 h-24 M218 581.25 h16 M1812.5 581.25 h-16 M218 521.6 h24 M1812.5 521.6 h-24 M218 461.95 h16 M1812.5 461.95 h-16 M218 402.3 h24 M1812.5 402.3 h-24 M218 342.65 h16 M1812.5 342.65 h-16 M218 283 h24 M1812.5 283 h-24 M218 223.35 h16 M1812.5 223.35 h-16 M218 163.7 h24 M1812.5 163.7 h-24 M218 104.05 h16 M1812.5 104.05 h-16" stroke-linecap="round"/>
</g>
<text transform="translate(169.63 64.2) scale(1 1.04)" font-family='"Liberation Sans", Arial, sans-serif'><tspan font-size="55.5">2</tspan></text>
<text transform="translate(92.48 183.5) scale(1 1.04)" font-family='"Liberation Sans", Arial, sans-serif'><tspan font-size="55.5">1.75</tspan></text><rect x="95.91" y="177.79" width="10.43" height="6.61" fill="#fff"/><rect x="111.44" y="177.79" width="10.1" height="6.61" fill="#fff"/>
<text transform="translate(123.35 302.8) scale(1 1.04)" font-family='"Liberation Sans", Arial, sans-serif'><tspan font-size="55.5">1.5</tspan></text><rect x="126.77" y="297.09" width="10.43" height="6.61" fill="#fff"/><rect x="142.31" y="297.09" width="10.1" height="6.61" fill="#fff"/>
<text transform="translate(92.48 422.1) scale(1 1.04)" font-family='"Liberation Sans", Arial, sans-serif'><tspan font-size="55.5">1.25</tspan></text><rect x="95.91" y="416.39" width="10.43" height="6.61" fill="#fff"/><rect x="111.44" y="416.39" width="10.1" height="6.61" fill="#fff"/>
<text transform="translate(169.63 541.4) scale(1 1.04)" font-family='"Liberation Sans", Arial, sans-serif'><tspan font-size="55.5">1</tspan></text><rect x="173.06" y="535.69" width="10.43" height="6.61" fill="#fff"/><rect x="188.59" y="535.69" width="10.1" height="6.61" fill="#fff"/>
<text transform="translate(92.48 660.7) scale(1 1.04)" font-family='"Liberation Sans", Arial, sans-serif'><tspan font-size="55.5">0.75</tspan></text>
<text transform="translate(123.35 780) scale(1 1.04)" font-family='"Liberation Sans", Arial, sans-serif'><tspan font-size="55.5">0.5</tspan></text>
<text transform="translate(92.48 899.3) scale(1 1.04)" font-family='"Liberation Sans", Arial, sans-serif'><tspan font-size="55.5">0.25</tspan></text>
<text transform="translate(169.63 1018.6) scale(1 1.04)" font-family='"Liberation Sans", Arial, sans-serif'><tspan font-size="55.5">0</tspan></text>
<text transform="translate(128.02 1064.3) scale(1 1.04)" font-family='"Liberation Sans", Arial, sans-serif'><tspan font-size="55.5">1E-005</tspan></text><rect x="131.44" y="1058.59" width="10.43" height="6.61" fill="#fff"/><rect x="146.98" y="1058.59" width="10.1" height="6.61" fill="#fff"/>
<text transform="translate(331.94 1064.3) scale(1 1.04)" font-family='"Liberation Sans", Arial, sans-serif'><tspan font-size="55.5">0.0001</tspan></text><rect x="474.25" y="1058.59" width="10.43" height="6.61" fill="#fff"/><rect x="489.78" y="1058.59" width="10.1" height="6.61" fill="#fff"/>
<text transform="translate(546.68 1064.3) scale(1 1.04)" font-family='"Liberation Sans", Arial, sans-serif'><tspan font-size="55.5">0.001</tspan></text><rect x="658.13" y="1058.59" width="10.43" height="6.61" fill="#fff"/><rect x="673.66" y="1058.59" width="10.1" height="6.61" fill="#fff"/>
<text transform="translate(761.43 1064.3) scale(1 1.04)" font-family='"Liberation Sans", Arial, sans-serif'><tspan font-size="55.5">0.01</tspan></text><rect x="842.01" y="1058.59" width="10.43" height="6.61" fill="#fff"/><rect x="857.54" y="1058.59" width="10.1" height="6.61" fill="#fff"/>
<text transform="translate(976.17 1064.3) scale(1 1.04)" font-family='"Liberation Sans", Arial, sans-serif'><tspan font-size="55.5">0.1</tspan></text><rect x="1025.89" y="1058.59" width="10.43" height="6.61" fill="#fff"/><rect x="1041.42" y="1058.59" width="10.1" height="6.61" fill="#fff"/>
<text transform="translate(1198.63 1064.3) scale(1 1.04)" font-family='"Liberation Sans", Arial, sans-serif'><tspan font-size="55.5">1</tspan></text><rect x="1202.06" y="1058.59" width="10.43" height="6.61" fill="#fff"/><rect x="1217.59" y="1058.59" width="10.1" height="6.61" fill="#fff"/>
<text transform="translate(1382.51 1064.3) scale(1 1.04)" font-family='"Liberation Sans", Arial, sans-serif'><tspan font-size="55.5">10</tspan></text><rect x="1385.94" y="1058.59" width="10.43" height="6.61" fill="#fff"/><rect x="1401.47" y="1058.59" width="10.1" height="6.61" fill="#fff"/>
<text transform="translate(1566.39 1064.3) scale(1 1.04)" font-family='"Liberation Sans", Arial, sans-serif'><tspan font-size="55.5">100</tspan></text><rect x="1569.82" y="1058.59" width="10.43" height="6.61" fill="#fff"/><rect x="1585.35" y="1058.59" width="10.1" height="6.61" fill="#fff"/>
<text transform="translate(1750.27 1064.3) scale(1 1.04)" font-family='"Liberation Sans", Arial, sans-serif'><tspan font-size="55.5">1000</tspan></text><rect x="1753.69" y="1058.59" width="10.43" height="6.61" fill="#fff"/><rect x="1769.23" y="1058.59" width="10.1" height="6.61" fill="#fff"/>
<text transform="translate(794 1136) scale(1 1)" font-family='"Liberation Sans", Arial, sans-serif'><tspan font-size="66">Strain Rate, s</tspan><tspan font-size="39.5" dy="-17.7">-1</tspan></text><rect x="1209.2" y="1113.95" width="7.62" height="5.25" fill="#fff"/><rect x="1220.51" y="1113.95" width="7.42" height="5.25" fill="#fff"/>
<text transform="translate(88.5 524.4) rotate(-90)" font-size="65.5" text-anchor="middle" font-family='"Liberation Sans", Arial, sans-serif'>Tensile Strength, GPa</text>
<polygon points="342.1,120.5 345.76,131.76 357.6,131.76 348.02,138.72 351.68,149.99 342.1,143.03 332.52,149.99 336.18,138.72 326.6,131.76 338.44,131.76" fill="#000"/>
<polygon points="336.1,183.3 348.1,183.3 348.1,193 357.8,193 357.8,205 348.1,205 348.1,214.7 336.1,214.7 336.1,205 326.4,205 326.4,193 336.1,193" fill="#000"/><rect x="337.6" y="194.5" width="9" height="9" fill="#fff"/>
<circle cx="342.1" cy="261.6" r="16.4" fill="#000"/>
<polygon points="342.1,306.6 346.78,314.7 356.13,314.7 351.45,322.8 356.13,330.9 346.78,330.9 342.1,339 337.42,330.9 328.07,330.9 332.75,322.8 328.07,314.7 337.42,314.7" fill="#00ff00" stroke="#0b3d0b" stroke-width="1.3"/>
<polygon points="409.9,120.5 413.56,131.76 425.4,131.76 415.82,138.72 419.48,149.99 409.9,143.03 400.32,149.99 403.98,138.72 394.4,131.76 406.24,131.76" fill="#000"/>
<polygon points="403.9,183.3 415.9,183.3 415.9,193 425.6,193 425.6,205 415.9,205 415.9,214.7 403.9,214.7 403.9,205 394.2,205 394.2,193 403.9,193" fill="#000"/><rect x="405.4" y="194.5" width="9" height="9" fill="#fff"/>
<circle cx="409.9" cy="261.6" r="16.4" fill="#000"/>
<polygon points="409.9,306.6 414.58,314.7 423.93,314.7 419.25,322.8 423.93,330.9 414.58,330.9 409.9,339 405.22,330.9 395.87,330.9 400.55,322.8 395.87,314.7 405.22,314.7" fill="#00ff00" stroke="#0b3d0b" stroke-width="1.3"/>
<polygon points="477.7,120.5 481.36,131.76 493.2,131.76 483.62,138.72 487.28,149.99 477.7,143.03 468.12,149.99 471.78,138.72 462.2,131.76 474.04,131.76" fill="#000"/>
<polygon points="471.7,183.3 483.7,183.3 483.7,193 493.4,193 493.4,205 483.7,205 483.7,214.7 471.7,214.7 471.7,205 462,205 462,193 471.7,193" fill="#000"/><rect x="473.2" y="194.5" width="9" height="9" fill="#fff"/>
<circle cx="477.7" cy="261.6" r="16.4" fill="#000"/>
<polygon points="477.7,306.6 482.38,314.7 491.73,314.7 487.05,322.8 491.73,330.9 482.38,330.9 477.7,339 473.02,330.9 463.67,330.9 468.35,322.8 463.67,314.7 473.02,314.7" fill="#00ff00" stroke="#0b3d0b" stroke-width="1.3"/>
<text transform="translate(501.2 151.2) scale(1 1.015)" font-family='"Liberation Sans", Arial, sans-serif'><tspan font-size="48.75">Barre et al. [16]</tspan></text><rect x="769.64" y="146.1" width="9.25" height="6" fill="#fff"/><rect x="783.4" y="146.1" width="8.96" height="6" fill="#fff"/>
<text transform="translate(501.2 213.2) scale(1 1.015)" font-family='"Liberation Sans", Arial, sans-serif'><tspan font-size="48.75">Shokrieh et al. [17]</tspan></text><rect x="842.84" y="208.1" width="9.25" height="6" fill="#fff"/><rect x="856.59" y="208.1" width="8.96" height="6" fill="#fff"/>
<text transform="translate(501.2 275.2) scale(1 1.015)" font-family='"Liberation Sans", Arial, sans-serif'><tspan font-size="48.75">Ou and Zhu [9]</tspan></text>
<text transform="translate(501.2 337.2) scale(1 1.015)" font-family='"Liberation Sans", Arial, sans-serif'><tspan font-size="48.75">Present work</tspan></text>
<polygon points="417.3,726 420.85,736.92 432.33,736.92 423.04,743.67 426.59,754.58 417.3,747.84 408.01,754.58 411.56,743.67 402.27,736.92 413.75,736.92" fill="#000"/>
<polygon points="911.7,703.7 915.25,714.62 926.73,714.62 917.44,721.37 920.99,732.28 911.7,725.54 902.41,732.28 905.96,721.37 896.67,714.62 908.15,714.62" fill="#000"/>
<polygon points="1134.9,656.7 1138.45,667.62 1149.93,667.62 1140.64,674.37 1144.19,685.28 1134.9,678.54 1125.61,685.28 1129.16,674.37 1119.87,667.62 1131.35,667.62" fill="#000"/>
<polygon points="1370.2,604.7 1373.75,615.62 1385.23,615.62 1375.94,622.37 1379.49,633.28 1370.2,626.54 1360.91,633.28 1364.46,622.37 1355.17,615.62 1366.65,615.62" fill="#000"/>
<polygon points="656,609.8 668,609.8 668,619.5 677.7,619.5 677.7,631.5 668,631.5 668,641.2 656,641.2 656,631.5 646.3,631.5 646.3,619.5 656,619.5" fill="#000"/><rect x="657.5" y="621" width="9" height="9" fill="#fff"/>
<polygon points="1157,606.8 1169,606.8 1169,616.5 1178.7,616.5 1178.7,628.5 1169,628.5 1169,638.2 1157,638.2 1157,628.5 1147.3,628.5 1147.3,616.5 1157,616.5" fill="#000"/><rect x="1158.5" y="618" width="9" height="9" fill="#fff"/>
<polygon points="1358.2,584.8 1370.2,584.8 1370.2,594.5 1379.9,594.5 1379.9,606.5 1370.2,606.5 1370.2,616.2 1358.2,616.2 1358.2,606.5 1348.5,606.5 1348.5,594.5 1358.2,594.5" fill="#000"/><rect x="1359.7" y="596" width="9" height="9" fill="#fff"/>
<polygon points="1540.9,502.3 1552.9,502.3 1552.9,512 1562.6,512 1562.6,524 1552.9,524 1552.9,533.7 1540.9,533.7 1540.9,524 1531.2,524 1531.2,512 1540.9,512" fill="#000"/><rect x="1542.4" y="513.5" width="9" height="9" fill="#fff"/>
<polygon points="1593.6,449 1605.6,449 1605.6,458.7 1615.3,458.7 1615.3,470.7 1605.6,470.7 1605.6,480.4 1593.6,480.4 1593.6,470.7 1583.9,470.7 1583.9,458.7 1593.6,458.7" fill="#000"/><rect x="1595.1" y="460.2" width="9" height="9" fill="#fff"/>
<circle cx="661.4" cy="663" r="16.8" fill="#000"/>
<circle cx="1534.2" cy="546" r="16.8" fill="#000"/>
<circle cx="1594.1" cy="541" r="16.8" fill="#000"/>
<circle cx="1627.9" cy="498.8" r="16.8" fill="#000"/>
<circle cx="1654" cy="494.4" r="16.8" fill="#000"/>
<polygon points="660.9,732 665.46,739.9 674.58,739.9 670.02,747.8 674.58,755.7 665.46,755.7 660.9,763.6 656.34,755.7 647.22,755.7 651.78,747.8 647.22,739.9 656.34,739.9" fill="#00ff00" stroke="#0b3d0b" stroke-width="1.3"/>
<polygon points="1492.6,723.8 1497.16,731.7 1506.28,731.7 1501.72,739.6 1506.28,747.5 1497.16,747.5 1492.6,755.4 1488.04,747.5 1478.92,747.5 1483.48,739.6 1478.92,731.7 1488.04,731.7" fill="#00ff00" stroke="#0b3d0b" stroke-width="1.3"/>
<polygon points="1553,703.9 1557.56,711.8 1566.68,711.8 1562.12,719.7 1566.68,727.6 1557.56,727.6 1553,735.5 1548.44,727.6 1539.32,727.6 1543.88,719.7 1539.32,711.8 1548.44,711.8" fill="#00ff00" stroke="#0b3d0b" stroke-width="1.3"/>
<polygon points="1613.6,679.2 1618.16,687.1 1627.28,687.1 1622.72,695 1627.28,702.9 1618.16,702.9 1613.6,710.8 1609.04,702.9 1599.92,702.9 1604.48,695 1599.92,687.1 1609.04,687.1" fill="#00ff00" stroke="#0b3d0b" stroke-width="1.3"/>
<polygon points="1673.6,606.5 1678.16,614.4 1687.28,614.4 1682.72,622.3 1687.28,630.2 1678.16,630.2 1673.6,638.1 1669.04,630.2 1659.92,630.2 1664.48,622.3 1659.92,614.4 1669.04,614.4" fill="#00ff00" stroke="#0b3d0b" stroke-width="1.3"/>
<path d="M543 716.5 L519.04 811.09" stroke="#ff0000" stroke-width="4.6" fill="none"/><path d="M533.54 794.54 L519.04 811.09 L514.17 789.63" stroke="#ff0000" stroke-width="4.6" fill="none" stroke-linejoin="miter" stroke-miterlimit="10"/>
<path d="M983.5 602 L927.98 549.58" stroke="#ff0000" stroke-width="4.6" fill="none"/><path d="M935.38 570.3 L927.98 549.58 L949.09 555.77" stroke="#ff0000" stroke-width="4.6" fill="none" stroke-linejoin="miter" stroke-miterlimit="10"/>
<path d="M1649.5 452.2 L1565.35 356.7" stroke="#ff0000" stroke-width="4.6" fill="none"/><path d="M1570.82 378.01 L1565.35 356.7 L1585.8 364.8" stroke="#ff0000" stroke-width="4.6" fill="none" stroke-linejoin="miter" stroke-miterlimit="10"/>
<path d="M1374.2 754.8 L1419.17 782.17" stroke="#ff0000" stroke-width="4.6" fill="none"/><path d="M1407.62 763.44 L1419.17 782.17 L1397.23 780.51" stroke="#ff0000" stroke-width="4.6" fill="none" stroke-linejoin="miter" stroke-miterlimit="10"/>
<g font-family='"Liberation Serif", "Times New Roman", serif' fill="#000"><text x="649.8" y="528.8" font-size="64" font-style="italic">Y</text><text x="706.3" y="534.8" font-size="66">=</text><text x="756.3" y="528.8" font-size="64" textLength="138.9" lengthAdjust="spacingAndGlyphs">0.800</text><text x="900.3" y="534.8" font-size="66.7">×</text><text x="945.8" y="528.8" font-size="64" font-style="italic">e</text><text x="974.5" y="502.4" font-size="36.6">4.202</text><text x="1054" y="506.6" font-size="39.5">×</text><text x="1074.5" y="502.4" font-size="36.6">10</text><text x="1108" y="487.4" font-size="26">−</text><text x="1122.6" y="487.4" font-size="27.5">3</text><text x="1138" y="506.6" font-size="39.5">×</text><text x="1161" y="502.4" font-size="38.5" font-style="italic">X</text></g>
<g font-family='"Liberation Serif", "Times New Roman", serif' fill="#000"><text x="1190.5" y="366.6" font-size="64" font-style="italic">Y</text><text x="1247" y="372.6" font-size="66">=</text><text x="1297" y="366.6" font-size="64" textLength="138.9" lengthAdjust="spacingAndGlyphs">0.778</text><text x="1441" y="372.6" font-size="66.7">×</text><text x="1486.5" y="366.6" font-size="64" font-style="italic">e</text><text x="1515.2" y="340.2" font-size="36.6">2.290</text><text x="1594.7" y="344.4" font-size="39.5">×</text><text x="1615.2" y="340.2" font-size="36.6">10</text><text x="1648.7" y="325.2" font-size="26">−</text><text x="1663.3" y="325.2" font-size="27.5">3</text><text x="1678.7" y="344.4" font-size="39.5">×</text><text x="1701.7" y="340.2" font-size="38.5" font-style="italic">X</text></g>
<g font-family='"Liberation Serif", "Times New Roman", serif' fill="#000"><text x="323.5" y="873" font-size="64" font-style="italic">Y</text><text x="380" y="879" font-size="66">=</text><text x="430" y="873" font-size="64" textLength="138.9" lengthAdjust="spacingAndGlyphs">0.594</text><text x="574" y="879" font-size="66.7">×</text><text x="619.5" y="873" font-size="64" font-style="italic">e</text><text x="648.2" y="846.6" font-size="36.6">4.990</text><text x="727.7" y="850.8" font-size="39.5">×</text><text x="748.2" y="846.6" font-size="36.6">10</text><text x="781.7" y="831.6" font-size="26">−</text><text x="796.3" y="831.6" font-size="27.5">2</text><text x="811.7" y="850.8" font-size="39.5">×</text><text x="834.7" y="846.6" font-size="38.5" font-style="italic">X</text></g>
<g font-family='"Liberation Serif", "Times New Roman", serif' fill="#000"><text x="1141.8" y="845.3" font-size="64" font-style="italic">Y</text><text x="1198.3" y="851.3" font-size="66">=</text><text x="1248.3" y="845.3" font-size="64" textLength="138.9" lengthAdjust="spacingAndGlyphs">0.523</text><text x="1392.3" y="851.3" font-size="66.7">×</text><text x="1437.8" y="845.3" font-size="64" font-style="italic">e</text><text x="1466.5" y="818.9" font-size="36.6">2.036</text><text x="1546" y="823.1" font-size="39.5">×</text><text x="1566.5" y="818.9" font-size="36.6">10</text><text x="1600" y="803.9" font-size="26">−</text><text x="1614.6" y="803.9" font-size="27.5">3</text><text x="1630" y="823.1" font-size="39.5">×</text><text x="1653" y="818.9" font-size="38.5" font-style="italic">X</text></g>
<g font-family='"Liberation Serif", "Times New Roman", serif' fill="#000"><text transform="translate(905.6 1239.3) scale(0.900 1)" font-size="85.8">(</text><text transform="translate(932 1239.3) scale(0.958 1)" font-size="86" font-weight="bold">a</text><text transform="translate(973.4 1239.3) scale(0.900 1)" font-size="85.8">)</text></g>
</g>
<g id="panel-b">
<g stroke="#000" stroke-width="4.6" fill="none">
<rect x="205.5" y="1298.2" width="1643.2" height="984.8"/>
<path d="M274.22 2283 v-32 M361.72 2283 v-15.5 M449.21 2283 v-32 M536.71 2283 v-15.5 M624.2 2283 v-32 M711.7 2283 v-15.5 M799.19 2283 v-32 M886.69 2283 v-15.5 M974.18 2283 v-32 M1061.68 2283 v-15.5 M1149.17 2283 v-32 M1236.66 2283 v-15.5 M1324.16 2283 v-32 M1411.66 2283 v-15.5 M1499.15 2283 v-32 M1586.64 2283 v-15.5 M1674.14 2283 v-32 M1761.63 2283 v-15.5 M322.87 1298.2 v32 M440.24 1298.2 v15.5 M557.61 1298.2 v32 M674.99 1298.2 v15.5 M792.36 1298.2 v32 M909.73 1298.2 v15.5 M1027.1 1298.2 v32 M1144.47 1298.2 v15.5 M1261.84 1298.2 v32 M1379.21 1298.2 v15.5 M1496.59 1298.2 v32 M1613.96 1298.2 v15.5 M1731.33 1298.2 v32 M205.5 2221.45 h16 M1848.7 2221.45 h-16 M205.5 2159.9 h24 M1848.7 2159.9 h-24 M205.5 2098.35 h16 M1848.7 2098.35 h-16 M205.5 2036.8 h24 M1848.7 2036.8 h-24 M205.5 1975.25 h16 M1848.7 1975.25 h-16 M205.5 1913.7 h24 M1848.7 1913.7 h-24 M205.5 1852.15 h16 M1848.7 1852.15 h-16 M205.5 1790.6 h24 M1848.7 1790.6 h-24 M205.5 1729.05 h16 M1848.7 1729.05 h-16 M205.5 1667.5 h24 M1848.7 1667.5 h-24 M205.5 1605.95 h16 M1848.7 1605.95 h-16 M205.5 1544.4 h24 M1848.7 1544.4 h-24 M205.5 1482.85 h16 M1848.7 1482.85 h-16 M205.5 1421.3 h24 M1848.7 1421.3 h-24 M205.5 1359.75 h16 M1848.7 1359.75 h-16" stroke-linecap="round"/>
</g>
<text transform="translate(155.19 1318.5) scale(1 1.04)" font-family='"Liberation Sans", Arial, sans-serif'><tspan font-size="57.2">2</tspan></text>
<text transform="translate(75.67 1441.6) scale(1 1.04)" font-family='"Liberation Sans", Arial, sans-serif'><tspan font-size="57.2">1.75</tspan></text><rect x="79.23" y="1435.76" width="10.73" height="6.74" fill="#fff"/><rect x="95.21" y="1435.76" width="10.38" height="6.74" fill="#fff"/>
<text transform="translate(107.48 1564.7) scale(1 1.04)" font-family='"Liberation Sans", Arial, sans-serif'><tspan font-size="57.2">1.5</tspan></text><rect x="111.04" y="1558.86" width="10.73" height="6.74" fill="#fff"/><rect x="127.02" y="1558.86" width="10.38" height="6.74" fill="#fff"/>
<text transform="translate(75.67 1687.8) scale(1 1.04)" font-family='"Liberation Sans", Arial, sans-serif'><tspan font-size="57.2">1.25</tspan></text><rect x="79.23" y="1681.96" width="10.73" height="6.74" fill="#fff"/><rect x="95.21" y="1681.96" width="10.38" height="6.74" fill="#fff"/>
<text transform="translate(155.19 1810.9) scale(1 1.04)" font-family='"Liberation Sans", Arial, sans-serif'><tspan font-size="57.2">1</tspan></text><rect x="158.75" y="1805.06" width="10.73" height="6.74" fill="#fff"/><rect x="174.73" y="1805.06" width="10.38" height="6.74" fill="#fff"/>
<text transform="translate(75.67 1934) scale(1 1.04)" font-family='"Liberation Sans", Arial, sans-serif'><tspan font-size="57.2">0.75</tspan></text>
<text transform="translate(107.48 2057.1) scale(1 1.04)" font-family='"Liberation Sans", Arial, sans-serif'><tspan font-size="57.2">0.5</tspan></text>
<text transform="translate(75.67 2180.2) scale(1 1.04)" font-family='"Liberation Sans", Arial, sans-serif'><tspan font-size="57.2">0.25</tspan></text>
<text transform="translate(155.19 2303.3) scale(1 1.04)" font-family='"Liberation Sans", Arial, sans-serif'><tspan font-size="57.2">0</tspan></text>
<text transform="translate(215.98 2350.5) scale(1 1.04)" font-family='"Liberation Sans", Arial, sans-serif'><tspan font-size="57.2">-100</tspan></text><rect x="238.58" y="2344.66" width="10.73" height="6.74" fill="#fff"/><rect x="254.57" y="2344.66" width="10.38" height="6.74" fill="#fff"/>
<text transform="translate(406.87 2350.5) scale(1 1.04)" font-family='"Liberation Sans", Arial, sans-serif'><tspan font-size="57.2">-50</tspan></text>
<text transform="translate(608.29 2350.5) scale(1 1.04)" font-family='"Liberation Sans", Arial, sans-serif'><tspan font-size="57.2">0</tspan></text>
<text transform="translate(767.38 2350.5) scale(1 1.04)" font-family='"Liberation Sans", Arial, sans-serif'><tspan font-size="57.2">50</tspan></text>
<text transform="translate(926.46 2350.5) scale(1 1.04)" font-family='"Liberation Sans", Arial, sans-serif'><tspan font-size="57.2">100</tspan></text><rect x="930.02" y="2344.66" width="10.73" height="6.74" fill="#fff"/><rect x="946" y="2344.66" width="10.38" height="6.74" fill="#fff"/>
<text transform="translate(1101.45 2350.5) scale(1 1.04)" font-family='"Liberation Sans", Arial, sans-serif'><tspan font-size="57.2">150</tspan></text><rect x="1105.01" y="2344.66" width="10.73" height="6.74" fill="#fff"/><rect x="1120.99" y="2344.66" width="10.38" height="6.74" fill="#fff"/>
<text transform="translate(1276.44 2350.5) scale(1 1.04)" font-family='"Liberation Sans", Arial, sans-serif'><tspan font-size="57.2">200</tspan></text>
<text transform="translate(1451.43 2350.5) scale(1 1.04)" font-family='"Liberation Sans", Arial, sans-serif'><tspan font-size="57.2">250</tspan></text>
<text transform="translate(1626.42 2350.5) scale(1 1.04)" font-family='"Liberation Sans", Arial, sans-serif'><tspan font-size="57.2">300</tspan></text>
<text transform="translate(1801.41 2350.5) scale(1 1.04)" font-family='"Liberation Sans", Arial, sans-serif'><tspan font-size="57.2">350</tspan></text>
<text x="777" y="2424.7" font-size="68.4" text-anchor="start" font-family='"Liberation Sans", Arial, sans-serif' >Temperature,</text>
<text x="1205" y="2421.5" font-size="74" text-anchor="start" font-family='"Liberation Sans", Arial, sans-serif' >°</text>
<text x="1226" y="2424.7" font-size="68" text-anchor="start" font-family='"Liberation Sans", Arial, sans-serif' >C</text>
<text transform="translate(70.3 1793.6) rotate(-90)" font-size="67.4" text-anchor="middle" font-family='"Liberation Sans", Arial, sans-serif'>Tensile Strength, GPa</text>
<polygon points="286.6,1352.8 303.8,1386.8 269.4,1386.8" fill="#000"/><polygon points="285.9,1364.2 285.9,1383.2 276,1383.2" fill="#fff"/>
<circle cx="286.6" cy="1433.9" r="17.1" fill="#000"/><path d="M287.5 1420.03 A13.9 13.9 0 0 1 287.5 1447.77 Z" fill="#fff"/>
<polygon points="272.3,1498.3 298.3,1484 298.3,1512.6" fill="#000"/>
<path d="M273.6 1551.5 L297 1574.9 M273.6 1574.9 L297 1551.5" stroke="#000" stroke-width="7.6" fill="none"/>
<path d="M270.9 1625.8 H299.7 M285.3 1611.4 V1640.2" stroke="#000" stroke-width="1.5" fill="none"/><polygon points="285.3,1621.2 295.1,1616 289.9,1625.8 295.1,1635.6 285.3,1630.4 275.5,1635.6 280.7,1625.8 275.5,1616" fill="#00ff00" stroke="#000" stroke-width="1.2" stroke-linejoin="miter"/>
<polygon points="356.5,1352.8 373.7,1386.8 339.3,1386.8" fill="#000"/><polygon points="355.8,1364.2 355.8,1383.2 345.9,1383.2" fill="#fff"/>
<circle cx="356.5" cy="1433.9" r="17.1" fill="#000"/><path d="M357.4 1420.03 A13.9 13.9 0 0 1 357.4 1447.77 Z" fill="#fff"/>
<polygon points="342.2,1498.3 368.2,1484 368.2,1512.6" fill="#000"/>
<path d="M343.5 1551.5 L366.9 1574.9 M343.5 1574.9 L366.9 1551.5" stroke="#000" stroke-width="7.6" fill="none"/>
<path d="M340.8 1625.8 H369.6 M355.2 1611.4 V1640.2" stroke="#000" stroke-width="1.5" fill="none"/><polygon points="355.2,1621.2 365,1616 359.8,1625.8 365,1635.6 355.2,1630.4 345.4,1635.6 350.6,1625.8 345.4,1616" fill="#00ff00" stroke="#000" stroke-width="1.2" stroke-linejoin="miter"/>
<polygon points="426.4,1352.8 443.6,1386.8 409.2,1386.8" fill="#000"/><polygon points="425.7,1364.2 425.7,1383.2 415.8,1383.2" fill="#fff"/>
<circle cx="426.4" cy="1433.9" r="17.1" fill="#000"/><path d="M427.3 1420.03 A13.9 13.9 0 0 1 427.3 1447.77 Z" fill="#fff"/>
<polygon points="412.1,1498.3 438.1,1484 438.1,1512.6" fill="#000"/>
<path d="M413.4 1551.5 L436.8 1574.9 M413.4 1574.9 L436.8 1551.5" stroke="#000" stroke-width="7.6" fill="none"/>
<path d="M410.7 1625.8 H439.5 M425.1 1611.4 V1640.2" stroke="#000" stroke-width="1.5" fill="none"/><polygon points="425.1,1621.2 434.9,1616 429.7,1625.8 434.9,1635.6 425.1,1630.4 415.3,1635.6 420.5,1625.8 415.3,1616" fill="#00ff00" stroke="#000" stroke-width="1.2" stroke-linejoin="miter"/>
<text transform="translate(449.3 1385.7) scale(1 1.015)" font-family='"Liberation Sans", Arial, sans-serif'><tspan font-size="50.3">Loading rate = 250 ~ 500 MPa/min, Robert et al. [20]</tspan></text>
<text transform="translate(449.3 1449.2) scale(1 1.015)" font-family='"Liberation Sans", Arial, sans-serif'><tspan font-size="50.3">Strain rate = 1.6×10</tspan><tspan font-size="30.3" dy="-16.8">-5</tspan><tspan font-size="50.3" dy="16.8"> s</tspan><tspan font-size="30.3" dy="-16.8">-1</tspan><tspan font-size="50.3" dy="16.8">, Reis et al. [6]</tspan></text><rect x="741.7" y="1443.99" width="9.52" height="6.11" fill="#fff"/><rect x="755.87" y="1443.99" width="9.22" height="6.11" fill="#fff"/><rect x="841" y="1443.99" width="9.52" height="6.11" fill="#fff"/><rect x="855.16" y="1443.99" width="9.22" height="6.11" fill="#fff"/><rect x="971.58" y="1428.45" width="6.01" height="4.6" fill="#fff"/><rect x="980.47" y="1428.45" width="5.87" height="4.6" fill="#fff"/>
<text transform="translate(449.3 1514) scale(1 1.015)" font-family='"Liberation Sans", Arial, sans-serif'><tspan font-size="50.3">Strain rate = 1.6×10</tspan><tspan font-size="30.3" dy="-16.8">-3</tspan><tspan font-size="50.3" dy="16.8"> s</tspan><tspan font-size="30.3" dy="-16.8">-1</tspan><tspan font-size="50.3" dy="16.8">, Reis et al. [6]</tspan></text><rect x="741.7" y="1508.79" width="9.52" height="6.11" fill="#fff"/><rect x="755.87" y="1508.79" width="9.22" height="6.11" fill="#fff"/><rect x="841" y="1508.79" width="9.52" height="6.11" fill="#fff"/><rect x="855.16" y="1508.79" width="9.22" height="6.11" fill="#fff"/><rect x="971.58" y="1493.25" width="6.01" height="4.6" fill="#fff"/><rect x="980.47" y="1493.25" width="5.87" height="4.6" fill="#fff"/>
<text transform="translate(449.3 1577.6) scale(1 1.015)" font-family='"Liberation Sans", Arial, sans-serif'><tspan font-size="50.3">Strain rate = 40 s</tspan><tspan font-size="30.3" dy="-16.8">-1</tspan><tspan font-size="50.3" dy="16.8">, Ou and Zhu [9]</tspan></text><rect x="845.34" y="1556.85" width="6.01" height="4.6" fill="#fff"/><rect x="854.23" y="1556.85" width="5.87" height="4.6" fill="#fff"/>
<text transform="translate(449.3 1642) scale(1 1.015)" font-family='"Liberation Sans", Arial, sans-serif'><tspan font-size="50.3">Strain rate = 25 s</tspan><tspan font-size="30.3" dy="-16.8">-1</tspan><tspan font-size="50.3" dy="16.8">, Present work</tspan></text><rect x="845.34" y="1621.25" width="6.01" height="4.6" fill="#fff"/><rect x="854.23" y="1621.25" width="5.87" height="4.6" fill="#fff"/>
<polygon points="274.22,1825.4 291.42,1859.4 257.02,1859.4" fill="#000"/><polygon points="273.52,1836.8 273.52,1855.8 263.62,1855.8" fill="#fff"/>
<polygon points="344.22,1853.8 361.42,1887.8 327.02,1887.8" fill="#000"/><polygon points="343.52,1865.2 343.52,1884.2 333.62,1884.2" fill="#fff"/>
<polygon points="414.21,1880.5 431.41,1914.5 397.01,1914.5" fill="#000"/><polygon points="413.51,1891.9 413.51,1910.9 403.61,1910.9" fill="#fff"/>
<polygon points="484.21,1877.9 501.41,1911.9 467.01,1911.9" fill="#000"/><polygon points="483.51,1889.3 483.51,1908.3 473.61,1908.3" fill="#fff"/>
<polygon points="554.2,1879.6 571.4,1913.6 537,1913.6" fill="#000"/><polygon points="553.5,1891 553.5,1910 543.6,1910" fill="#fff"/>
<polygon points="624.2,1894.9 641.4,1928.9 607,1928.9" fill="#000"/><polygon points="623.5,1906.3 623.5,1925.3 613.6,1925.3" fill="#fff"/>
<polygon points="711.7,1894.9 728.9,1928.9 694.5,1928.9" fill="#000"/><polygon points="711,1906.3 711,1925.3 701.1,1925.3" fill="#fff"/>
<polygon points="799.19,1893.2 816.39,1927.2 781.99,1927.2" fill="#000"/><polygon points="798.49,1904.6 798.49,1923.6 788.59,1923.6" fill="#fff"/>
<polygon points="974.18,1935.1 991.38,1969.1 956.98,1969.1" fill="#000"/><polygon points="973.48,1946.5 973.48,1965.5 963.58,1965.5" fill="#fff"/>
<polygon points="1149.17,2004.2 1166.37,2038.2 1131.97,2038.2" fill="#000"/><polygon points="1148.47,2015.6 1148.47,2034.6 1138.57,2034.6" fill="#fff"/>
<polygon points="1324.16,2013.7 1341.36,2047.7 1306.96,2047.7" fill="#000"/><polygon points="1323.46,2025.1 1323.46,2044.1 1313.56,2044.1" fill="#fff"/>
<polygon points="1499.15,2037.9 1516.35,2071.9 1481.95,2071.9" fill="#000"/><polygon points="1498.45,2049.3 1498.45,2068.3 1488.55,2068.3" fill="#fff"/>
<polygon points="1674.14,2067 1691.34,2101 1656.94,2101" fill="#000"/><polygon points="1673.44,2078.4 1673.44,2097.4 1663.54,2097.4" fill="#fff"/>
<polygon points="1761.63,2091.4 1778.84,2125.4 1744.43,2125.4" fill="#000"/><polygon points="1760.93,2102.8 1760.93,2121.8 1751.03,2121.8" fill="#fff"/>
<path d="M522.61 1767.3 L550.81 1795.5 M522.61 1795.5 L550.81 1767.3" stroke="#000" stroke-width="9" fill="none"/>
<path d="M610.1 1784.9 L638.3 1813.1 M610.1 1813.1 L638.3 1784.9" stroke="#000" stroke-width="9" fill="none"/>
<path d="M697.6 1801.6 L725.8 1829.8 M697.6 1829.8 L725.8 1801.6" stroke="#000" stroke-width="9" fill="none"/>
<path d="M785.09 1805.8 L813.29 1834 M785.09 1834 L813.29 1805.8" stroke="#000" stroke-width="9" fill="none"/>
<path d="M872.59 1871.5 L900.79 1899.7 M872.59 1899.7 L900.79 1871.5" stroke="#000" stroke-width="9" fill="none"/>
<path d="M960.08 1904.5 L988.28 1932.7 M960.08 1932.7 L988.28 1904.5" stroke="#000" stroke-width="9" fill="none"/>
<path d="M519.71 2022.4 H553.71 M536.71 2005.4 V2039.4" stroke="#000" stroke-width="1.5" fill="none"/><polygon points="536.71,2017.4 547.41,2011.7 541.71,2022.4 547.41,2033.1 536.71,2027.4 526,2033.1 531.71,2022.4 526,2011.7" fill="#00ff00" stroke="#000" stroke-width="1.2" stroke-linejoin="miter"/>
<path d="M607.2 2025.4 H641.2 M624.2 2008.4 V2042.4" stroke="#000" stroke-width="1.5" fill="none"/><polygon points="624.2,2020.4 634.9,2014.7 629.2,2025.4 634.9,2036.1 624.2,2030.4 613.5,2036.1 619.2,2025.4 613.5,2014.7" fill="#00ff00" stroke="#000" stroke-width="1.2" stroke-linejoin="miter"/>
<path d="M694.7 2015.7 H728.7 M711.7 1998.7 V2032.7" stroke="#000" stroke-width="1.5" fill="none"/><polygon points="711.7,2010.7 722.4,2005 716.7,2015.7 722.4,2026.4 711.7,2020.7 701,2026.4 706.7,2015.7 701,2005" fill="#00ff00" stroke="#000" stroke-width="1.2" stroke-linejoin="miter"/>
<path d="M782.19 2025.4 H816.19 M799.19 2008.4 V2042.4" stroke="#000" stroke-width="1.5" fill="none"/><polygon points="799.19,2020.4 809.89,2014.7 804.19,2025.4 809.89,2036.1 799.19,2030.4 788.49,2036.1 794.19,2025.4 788.49,2014.7" fill="#00ff00" stroke="#000" stroke-width="1.2" stroke-linejoin="miter"/>
<path d="M869.69 2042 H903.69 M886.69 2025 V2059" stroke="#000" stroke-width="1.5" fill="none"/><polygon points="886.69,2037 897.39,2031.3 891.69,2042 897.39,2052.7 886.69,2047 875.99,2052.7 881.69,2042 875.99,2031.3" fill="#00ff00" stroke="#000" stroke-width="1.2" stroke-linejoin="miter"/>
<path d="M957.18 2072.9 H991.18 M974.18 2055.9 V2089.9" stroke="#000" stroke-width="1.5" fill="none"/><polygon points="974.18,2067.9 984.88,2062.2 979.18,2072.9 984.88,2083.6 974.18,2077.9 963.48,2083.6 969.18,2072.9 963.48,2062.2" fill="#00ff00" stroke="#000" stroke-width="1.2" stroke-linejoin="miter"/>
<circle cx="694.2" cy="2172.1" r="17.1" fill="#000"/><path d="M695.1 2158.23 A13.9 13.9 0 0 1 695.1 2185.97 Z" fill="#fff"/>
<circle cx="764.19" cy="2177.2" r="17.1" fill="#000"/><path d="M765.09 2163.33 A13.9 13.9 0 0 1 765.09 2191.07 Z" fill="#fff"/>
<circle cx="834.19" cy="2228" r="17.1" fill="#000"/><path d="M835.09 2214.13 A13.9 13.9 0 0 1 835.09 2241.87 Z" fill="#fff"/>
<circle cx="904.18" cy="2247.4" r="17.1" fill="#000"/><path d="M905.08 2233.53 A13.9 13.9 0 0 1 905.08 2261.27 Z" fill="#fff"/>
<polygon points="679.35,2143.1 708.05,2126.3 708.05,2159.9" fill="#000"/>
<polygon points="749.34,2148.6 778.04,2131.8 778.04,2165.4" fill="#000"/>
<polygon points="819.34,2206.9 848.04,2190.1 848.04,2223.7" fill="#000"/>
<polygon points="889.33,2233 918.03,2216.2 918.03,2249.8" fill="#000"/>
<g font-family='"Liberation Serif", "Times New Roman", serif' fill="#000"><text transform="translate(900.4 2528.7) scale(0.914 1)" font-size="86.1">(</text><text transform="translate(926.9 2528.7) scale(1.027 1)" font-size="89" font-weight="bold">b</text><text transform="translate(978.3 2528.7) scale(0.914 1)" font-size="86.1">)</text></g>
</g>
</svg>
</body>
</html>
